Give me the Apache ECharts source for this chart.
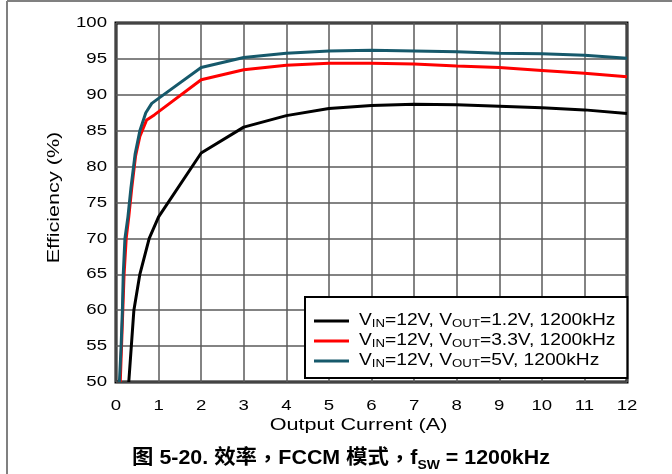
<!DOCTYPE html>
<html><head><meta charset="utf-8">
<script src="https://cdn.jsdelivr.net/npm/echarts@6/dist/echarts.min.js"></script>
<style>html,body{margin:0;padding:0;background:#fff}#c{width:672px;height:474px}</style>
</head><body><div id="c"></div>
<script>
// Data
const xTicks = [0,1,2,3,4,5,6,7,8,9,10,11,12];
const yTicks = [50,55,60,65,70,75,80,85,90,95,100];

const names = ['Vout 1.2V', 'Vout 3.3V', 'Vout 5V'];
const legendText = [
  'V{sub|IN}=12V, V{sub|OUT}=1.2V, 1200kHz',
  'V{sub|IN}=12V, V{sub|OUT}=3.3V, 1200kHz',
  'V{sub|IN}=12V, V{sub|OUT}=5V, 1200kHz'
];

const x12 = [0.30,0.36,0.42,0.56,0.78,1,2,3,4,5,6,7,8,9,10,11,12];
const y12 = [50,55,60,65,70,73,81.9,85.5,87.1,88.1,88.5,88.7,88.6,88.4,88.2,87.9,87.4];

const x33 = [0.10,0.13,0.16,0.19,0.24,0.30,0.37,0.46,0.56,0.72,0.90,2,3,4,5,6,7,8,9,10,11,12];
const y33 = [50,55,60,65,70,73,77,81.5,84.2,86.5,87.2,92.1,93.5,94.1,94.4,94.4,94.3,94.0,93.8,93.4,93.0,92.5];

const x5 = [0.08,0.12,0.15,0.17,0.21,0.28,0.35,0.45,0.56,0.70,0.84,1,2,3,4,5,6,7,8,9,10,11,12];
const y5 = [50,55,60,65,70,73,77,81.8,85,87.5,88.8,89.5,93.8,95.2,95.8,96.1,96.2,96.1,96.0,95.8,95.7,95.5,95.1];

const colors = ['#000000', '#ff0000', '#16596b'];
const xs = [x12, x33, x5];
const ys = [y12, y33, y5];

// The reference text is horizontally wide; emulate with a horizontal text stretch
// signalled through a dummy family name "sxNNN" (NNN = percent).
(function () {
  const P = CanvasRenderingContext2D.prototype;
  const oFill = P.fillText, oMeasure = P.measureText;
  function f(ctx) { const m = /sx(\d+)/.exec(ctx.font || ''); return m ? parseInt(m[1], 10) / 100 : 1; }
  P.fillText = function (t, x, y) {
    const s = f(this);
    if (s === 1) return oFill.apply(this, arguments);
    this.save(); this.translate(x, y); this.scale(s, 1); oFill.call(this, t, 0, 0); this.restore();
  };
  P.measureText = function (t) {
    const m = oMeasure.call(this, t); const s = f(this);
    if (s === 1) return m;
    return {
      width: m.width * s,
      actualBoundingBoxLeft: m.actualBoundingBoxLeft * s,
      actualBoundingBoxRight: m.actualBoundingBoxRight * s,
      actualBoundingBoxAscent: m.actualBoundingBoxAscent,
      actualBoundingBoxDescent: m.actualBoundingBoxDescent,
      fontBoundingBoxAscent: m.fontBoundingBoxAscent,
      fontBoundingBoxDescent: m.fontBoundingBoxDescent,
      emHeightAscent: m.emHeightAscent, emHeightDescent: m.emHeightDescent
    };
  };
})();

const FT = '"Liberation Sans", Arial, sans-serif, sx124';      // tick labels
const FN = '"Liberation Sans", Arial, sans-serif, sx135';      // axis names
const FL = '"Liberation Sans", Arial, sans-serif, sx120';      // legend
const FC = '"Liberation Sans", Arial, "Noto Sans CJK TC", sans-serif, sx107'; // caption
const FCM = '"Noto Sans CJK TC", sans-serif, sx107';          // caption full-width commas

const chart = echarts.init(document.getElementById('c'), null, {renderer: 'canvas'});
const option = {
  backgroundColor: '#fff',
  animation: false,
  grid: {left: 116, right: 45, top: 23, bottom: 92, show: true, borderColor: '#000', borderWidth: 3, backgroundColor: 'transparent'},
  title: {
    text: '图 5-20. 效率{cm|，}FCCM 模式{cm|，}f{sub|SW} = 1200kHz',
    left: 336, top: 439, textAlign: 'center',
    textStyle: {
      fontFamily: FC, fontSize: 20, fontWeight: 'bold', color: '#000', lineHeight: 22,
      rich: {
        sub: {fontFamily: FC, fontSize: 13, fontWeight: 'bold', color: '#000', verticalAlign: 'bottom', lineHeight: 28},
        cm: {fontFamily: FCM, fontSize: 20, fontWeight: 'bold', color: '#000', lineHeight: 22}
      }
    }
  },
  legend: {
    orient: 'vertical', left: 305, top: 297,
    data: names,
    formatter: function (n) { return legendText[names.indexOf(n)]; },
    itemWidth: 35, itemHeight: 3, itemGap: 0,
    icon: 'rect',
    padding: [14, 12, 7, 9],
    backgroundColor: '#fff', borderColor: '#000', borderWidth: 2,
    textStyle: {
      fontFamily: FL, fontSize: 16, color: '#000', lineHeight: 16, padding: [0, 0, 0, 5],
      rich: {sub: {fontFamily: FL, fontSize: 11, color: '#000', verticalAlign: 'bottom', lineHeight: 20}}
    }
  },
  xAxis: {
    type: 'value', min: 0, max: 12, interval: 1,
    name: 'Output Current (A)', nameLocation: 'middle', nameGap: 33, nameMoveOverlap: false,
    nameTextStyle: {fontFamily: FN, fontSize: 16, color: '#000', padding: [0, 26, 0, 0]},
    axisLine: {show: false}, axisTick: {show: false},
    axisLabel: {fontFamily: FT, fontSize: 15, color: '#000', margin: 15,
      formatter: function (v) { return xTicks.indexOf(v) >= 0 ? String(v) : ''; }},
    splitLine: {show: true, lineStyle: {color: '#5a5a5a', width: 1.5}}
  },
  yAxis: {
    type: 'value', min: 50, max: 100, interval: 5,
    name: 'Efficiency (%)', nameLocation: 'middle', nameGap: 50,
    nameTextStyle: {fontFamily: FN, fontSize: 16, color: '#000', padding: [0, 0, 0, 10]},
    axisLine: {show: false}, axisTick: {show: false},
    axisLabel: {fontFamily: FT, fontSize: 15, color: '#000', margin: 9,
      formatter: function (v) { return yTicks.indexOf(v) >= 0 ? String(v) : ''; }},
    splitLine: {show: true, lineStyle: {color: '#5a5a5a', width: 1.5}}
  },
  series: names.map(function (n, i) {
    return {
      name: n, type: 'line', showSymbol: false, symbol: 'none',
      data: xs[i].map(function (x, j) { return [x, ys[i][j]]; }),
      lineStyle: {color: colors[i], width: 3}, itemStyle: {color: colors[i]},
      z: 3 + i, clip: true
    };
  }),
  graphic: [
    {type: 'line', shape: {x1: 7, y1: 1, x2: 672, y2: 1}, style: {stroke: '#808080', lineWidth: 2}},
    {type: 'line', shape: {x1: 7, y1: 1, x2: 7, y2: 474}, style: {stroke: '#808080', lineWidth: 2}}
  ]
};
chart.setOption(option);
</script>
</body></html>
